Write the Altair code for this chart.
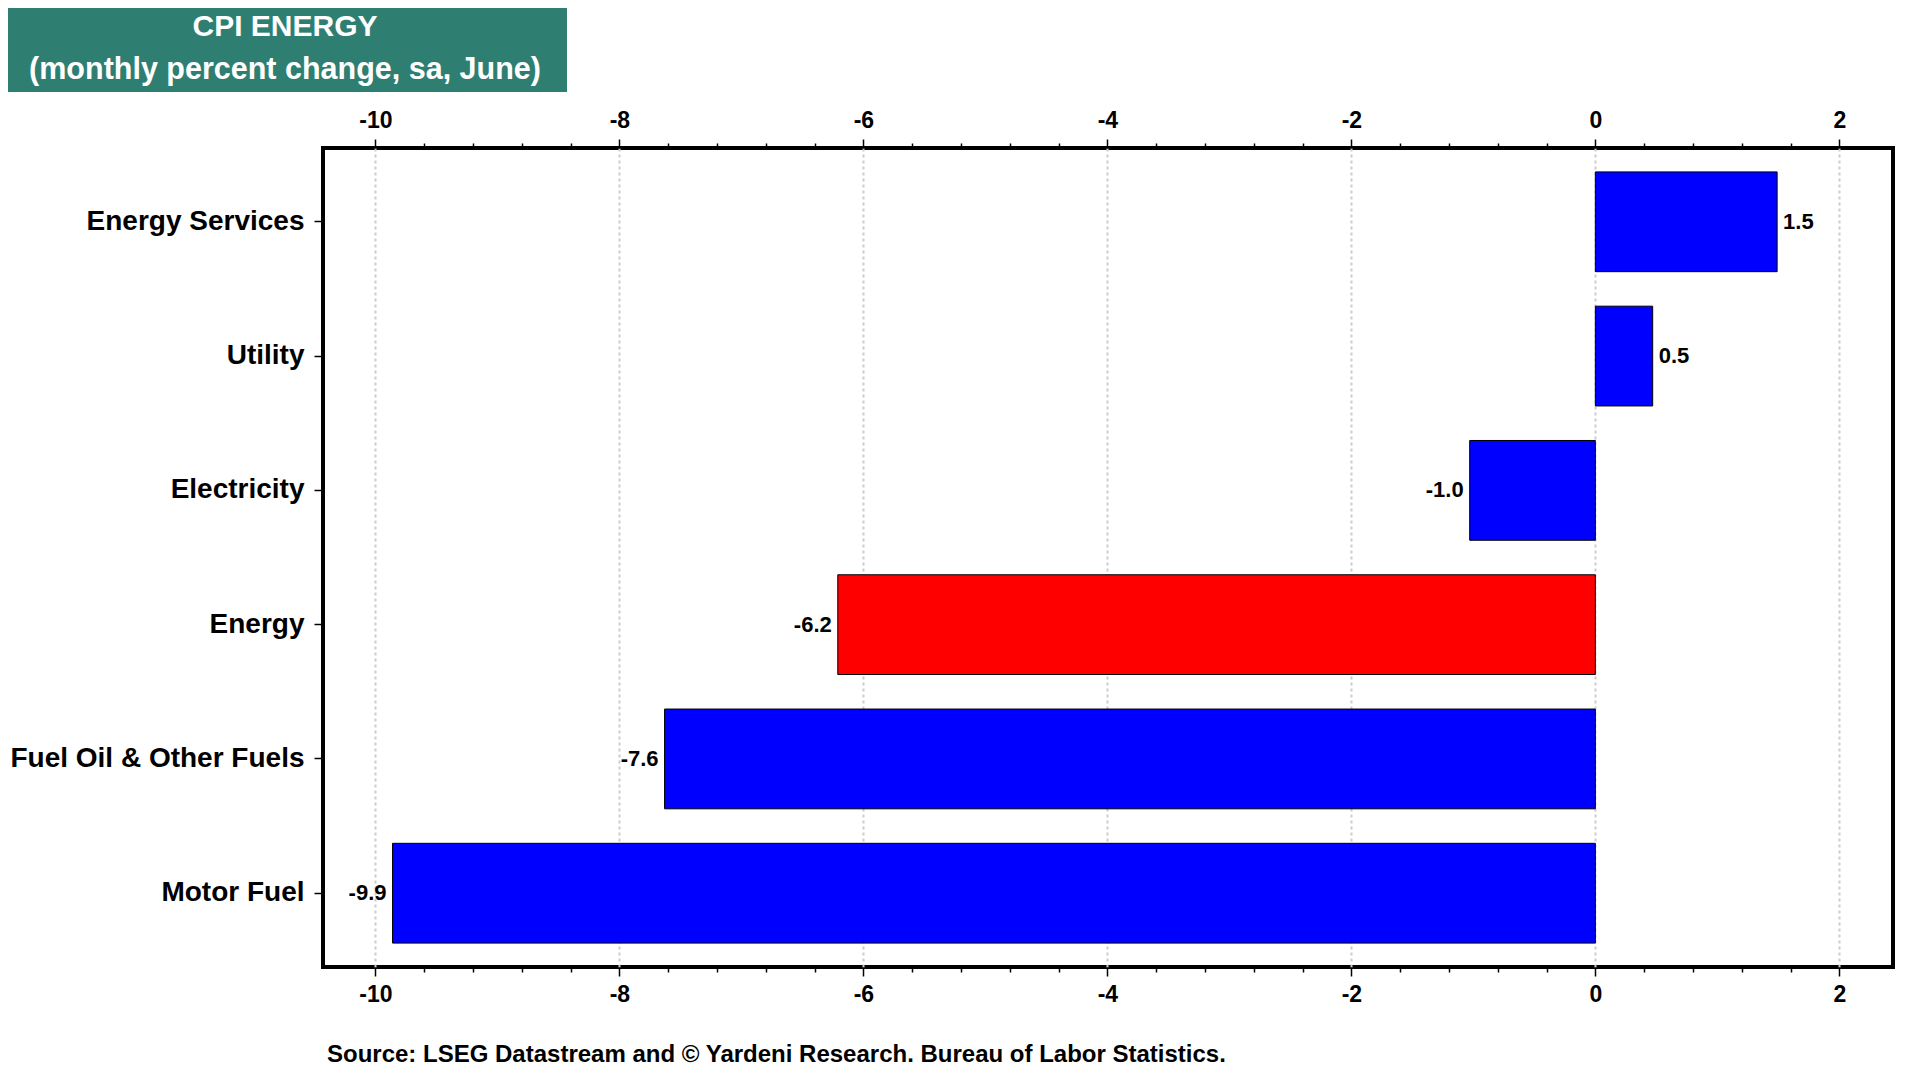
import altair as alt
import pandas as pd

# data
categories = [
    "Energy Services",
    "Utility",
    "Electricity",
    "Energy",
    "Fuel Oil & Other Fuels",
    "Motor Fuel",
]
values = [1.49, 0.47, -1.03, -6.21, -7.63, -9.86]
bar_colors = ["#0000FF", "#0000FF", "#0000FF", "#FF0000", "#0000FF", "#0000FF"]
labels = [f"{v:.1f}" for v in values]

title_lines = ["CPI ENERGY", "(monthly percent change, sa, June)"]
source_note = "Source: LSEG Datastream and © Yardeni Research. Bureau of Labor Statistics."

df = pd.DataFrame({"category": categories, "value": values,
                   "color": bar_colors, "label": labels})

# axis ticks: major every 2, minor every 0.4
x_ticks = [round(-10 + 0.4 * i, 1) for i in range(31)]
major = "abs(datum.value % 2) < 0.01 || abs(datum.value % 2) > 1.99"

x_scale = alt.Scale(domain=[-10.43, 2.44], nice=False, zero=False)


def x_axis(orient, grid):
    return alt.Axis(
        orient=orient, values=x_ticks, title=None, domain=False,
        grid=grid, gridColor="#cccccc", gridDash=[3, 3], gridWidth=2,
        gridOpacity={"condition": {"test": major, "value": 1}, "value": 0},
        tickColor="black", tickWidth=1.5,
        tickSize={"condition": {"test": major, "value": 9}, "value": 5},
        labelExpr=f"({major}) ? '' + datum.value : ''",
        labelFontSize=23, labelFontWeight="bold", labelColor="black",
        labelPadding=7, labelFlush=False, labelOverlap=False,
    )


y_enc = alt.Y(
    "category:N", sort=categories, title=None,
    scale=alt.Scale(paddingInner=0.257, paddingOuter=0.178),
    axis=alt.Axis(labelFontSize=28, labelFontWeight="bold", labelColor="black",
                  labelPadding=10, labelLimit=0, tickSize=9, tickColor="black",
                  tickWidth=1.5, domain=False, grid=False),
)

base = alt.Chart(df)

bars = base.mark_bar(stroke="black", strokeWidth=1).encode(
    x=alt.X("value:Q", scale=x_scale, axis=x_axis("bottom", True)),
    x2=alt.datum(0),
    y=y_enc,
    color=alt.Color("color:N", scale=None),
)

pos_text = base.mark_text(align="left", dx=6, fontSize=22, fontWeight="bold",
                          color="black").encode(
    x=alt.X("value:Q", scale=x_scale, axis=x_axis("top", False)),
    y=y_enc,
    text="label:N",
).transform_filter("datum.value >= 0")

neg_text = base.mark_text(align="right", dx=-6, fontSize=22, fontWeight="bold",
                          color="black").encode(
    x=alt.X("value:Q", scale=x_scale, axis=None),
    y=y_enc,
    text="label:N",
).transform_filter("datum.value < 0")

# title box
one = alt.Data(values=[{}])
title_box = alt.Chart(one).mark_rect(color="#2F7E72").encode(
    x=alt.value(-315), x2=alt.value(244), y=alt.value(-140), y2=alt.value(-56)
)
title_1 = alt.Chart(one).mark_text(
    text=title_lines[0], fontSize=30, fontWeight="bold", color="white",
    align="center", baseline="middle",
).encode(x=alt.value(-38), y=alt.value(-121))
title_2 = alt.Chart(one).mark_text(
    text=title_lines[1], fontSize=30.5, fontWeight="bold", color="white",
    align="center", baseline="middle",
).encode(x=alt.value(-38), y=alt.value(-78))

source = alt.Chart(one).mark_text(
    text=source_note, fontSize=24, fontWeight="bold", color="black",
    align="left", baseline="middle",
).encode(x=alt.value(4), y=alt.value(907))

chart = alt.layer(
    bars, pos_text, neg_text, title_box, title_1, title_2, source
).resolve_axis(
    x="independent"
).properties(
    width=1570, height=819,
    autosize=alt.AutoSizeParams(type="none"),
    padding={"left": 315, "top": 140, "right": 15, "bottom": 101},
).configure(
    font="Liberation Sans"
).configure_view(
    stroke="black", strokeWidth=4
)

chart.save("out.html", embed_options={"renderer": "svg", "actions": False})
